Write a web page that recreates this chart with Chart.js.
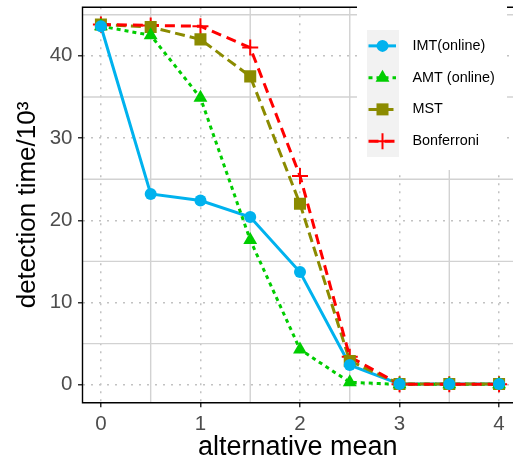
<!DOCTYPE html>
<html>
<head>
<meta charset="utf-8">
<script src="https://cdn.jsdelivr.net/npm/chart.js"></script>
<style>
    html, body { margin: 0; padding: 0; background: #fff; }
    #chart { width: 513px; height: 462px; }
</style>
</head>
<body>
<div id="chart"><canvas id="myChart" width="513" height="462"></canvas></div>
<script>
// donnees (temps de detection / 10^3)
const altMeans = [0, 0.5, 1, 1.5, 2, 2.5, 3, 3.5, 4];
const imtOnline = [43.6, 23.2, 22.4, 20.4, 13.7, 2.4, 0.1, 0.1, 0.1];
const amtOnline = [43.6, 42.5, 34.9, 17.6, 4.3, 0.3, 0.05, 0.05, 0.05];
const mst = [43.8, 43.5, 42.0, 37.5, 22.0, 2.9, 0.1, 0.1, 0.1];
const bonferroni = [43.8, 43.7, 43.6, 41.0, 25.4, 3.4, 0.05, 0.05, 0.05];
const seriesNames = ['IMT(online)', 'AMT (online)', 'MST', 'Bonferroni'];
const xTicks = [0, 1, 2, 3, 4];
const yTicks = [0, 10, 20, 30, 40];
const xMinorGrid = [0.5, 1.5, 2.5, 3.5];
const yMinorGrid = [5, 15, 25, 35, 45];

const FONT = '"Liberation Sans", Arial, Helvetica, sans-serif';
Chart.defaults.font.family = FONT;

const styles = [
    {color: '#00b2ee', dash: [], point: 'circle', radius: 6},
    {color: '#00cd00', dash: [4, 4], point: 'triangle', radius: 8},
    {color: '#8b8b00', dash: [10, 5], point: 'rect', radius: 8.5},
    {color: '#ff0000', dash: [10, 6], point: 'cross', radius: 8}
];
const seriesValues = [imtOnline, amtOnline, mst, bonferroni];

function toPoints(values) {
    return altMeans.map((x, i) => ({x: x, y: values[i]}));
}

const datasets = [];
seriesValues.forEach((values, i) => {
    const s = styles[i];
    // couche des lignes (sous tous les points, comme ggplot)
    datasets.push({
        label: seriesNames[i],
        data: toPoints(values),
        showLine: true,
        borderColor: s.color,
        borderWidth: 3,
        borderDash: s.dash,
        pointRadius: 0,
        pointHoverRadius: 0,
        fill: false,
        tension: 0,
        order: 10 + (3 - i)
    });
    // couche des points
    datasets.push({
        label: seriesNames[i] + ' pts',
        data: toPoints(values),
        showLine: false,
        pointStyle: s.point,
        pointRadius: s.radius,
        pointHoverRadius: s.radius,
        pointBackgroundColor: s.color,
        pointBorderColor: s.color,
        pointBorderWidth: s.point === 'cross' ? 2 : 0,
        order: i
    });
});

function drawMarker(ctx, s, x, y) {
    const r = s.radius;
    ctx.setLineDash([]);
    ctx.fillStyle = s.color;
    ctx.strokeStyle = s.color;
    ctx.beginPath();
    if (s.point === 'circle') {
        ctx.arc(x, y, r, 0, Math.PI * 2);
        ctx.fill();
    } else if (s.point === 'triangle') {
        ctx.moveTo(x, y - r);
        ctx.lineTo(x + r * Math.sin(Math.PI * 2 / 3), y + r / 2);
        ctx.lineTo(x - r * Math.sin(Math.PI * 2 / 3), y + r / 2);
        ctx.closePath();
        ctx.fill();
    } else if (s.point === 'rect') {
        const h = r * Math.SQRT1_2;
        ctx.rect(x - h, y - h, 2 * h, 2 * h);
        ctx.fill();
    } else {
        ctx.lineWidth = 2;
        ctx.moveTo(x - r, y); ctx.lineTo(x + r, y);
        ctx.moveTo(x, y - r); ctx.lineTo(x, y + r);
        ctx.stroke();
    }
}

const legendBox = {left: 357, top: 0, width: 150, height: 170,
    keyLeft: 367, keyTop: 30, keyWidth: 32, rowHeight: 31.75, textLeft: 412.5};

const ggDecor = {
    id: 'ggDecor',
    beforeDatasetsDraw(chart) {
        const {ctx, chartArea: a, scales: {x, y}} = chart;
        ctx.save();
        ctx.strokeStyle = '#d2d2d2';
        ctx.lineWidth = 1.4;
        ctx.beginPath();
        xMinorGrid.forEach(v => {
            const px = x.getPixelForValue(v);
            ctx.moveTo(px, a.top); ctx.lineTo(px, a.bottom);
        });
        yMinorGrid.forEach(v => {
            const py = y.getPixelForValue(v);
            ctx.moveTo(a.left, py); ctx.lineTo(a.right, py);
        });
        ctx.stroke();
        ctx.restore();
    },
    afterDatasetsDraw(chart) {
        const {ctx, chartArea: a} = chart;
        ctx.save();
        ctx.strokeStyle = '#000';
        ctx.lineWidth = 1.4;
        ctx.beginPath();
        ctx.moveTo(a.right, a.top);
        ctx.lineTo(a.left, a.top);
        ctx.lineTo(a.left, a.bottom);
        ctx.lineTo(a.right, a.bottom);
        ctx.stroke();
        ctx.restore();
    },
    afterDraw(chart) {
        const ctx = chart.ctx;
        const L = legendBox;
        ctx.save();
        ctx.fillStyle = '#fff';
        ctx.fillRect(L.left, L.top, L.width, L.height);
        ctx.fillStyle = '#f2f2f2';
        ctx.fillRect(L.keyLeft, L.keyTop, L.keyWidth, L.rowHeight * seriesNames.length);
        seriesNames.forEach((name, i) => {
            const s = styles[i];
            const cy = L.keyTop + L.rowHeight * (i + 0.5);
            ctx.strokeStyle = s.color;
            ctx.lineWidth = 3;
            ctx.setLineDash(s.dash);
            ctx.beginPath();
            ctx.moveTo(L.keyLeft + 1.5, cy);
            ctx.lineTo(L.keyLeft + 29, cy);
            ctx.stroke();
            drawMarker(ctx, s, L.keyLeft + 15.5, cy);
            ctx.fillStyle = '#000';
            ctx.font = '14.4px ' + FONT;
            ctx.textAlign = 'left';
            ctx.textBaseline = 'middle';
            ctx.fillText(name, L.textLeft, cy);
        });
        ctx.restore();
    }
};

function noScalePadding(scale) {
    scale.paddingLeft = 0;
    scale.paddingRight = 0;
    scale.paddingTop = 0;
    scale.paddingBottom = 0;
}

const tickFont = {family: FONT, size: 20.5};
const gridOpts = {
    color: '#c2c2c2',
    lineWidth: 1.5,
    tickLength: 4.5,
    tickColor: '#333333',
    tickWidth: 1.5,
    tickBorderDash: []
};

new Chart(document.getElementById('myChart'), {
    type: 'scatter',
    data: {datasets: datasets},
    options: {
        responsive: false,
        animation: false,
        events: [],
        layout: {autoPadding: false, padding: {top: 7.3, right: 0, bottom: 0, left: 0}},
        scales: {
            x: {
                type: 'linear',
                min: -0.185,
                max: 4.14,
                afterBuildTicks: scale => { scale.ticks = xTicks.map(v => ({value: v})); },
                ticks: {color: '#4d4d4d', font: tickFont, padding: 5, maxRotation: 0,
                    callback: v => String(v)},
                grid: gridOpts,
                border: {display: false, dash: [2, 6]},
                title: {display: true, text: 'alternative mean', color: '#000',
                    font: {family: FONT, size: 27, lineHeight: 1}, padding: {top: 0, bottom: 1}},
                afterFit: scale => { scale.height = 59.3; noScalePadding(scale); }
            },
            y: {
                type: 'linear',
                min: -2.18,
                max: 45.9,
                afterBuildTicks: scale => { scale.ticks = yTicks.map(v => ({value: v})); },
                ticks: {color: '#4d4d4d', font: tickFont, padding: 5.5,
                    callback: v => String(v)},
                grid: gridOpts,
                border: {display: false, dash: [2, 6]},
                title: {display: true, text: 'detection time/10³', color: '#000',
                    font: {family: FONT, size: 26, lineHeight: 1.2}, padding: {top: 12, bottom: 0}},
                afterFit: scale => { scale.width = 82.5; noScalePadding(scale); }
            }
        },
        plugins: {
            legend: {display: false},
            tooltip: {enabled: false}
        }
    },
    plugins: [ggDecor]
});
</script>
</body>
</html>
